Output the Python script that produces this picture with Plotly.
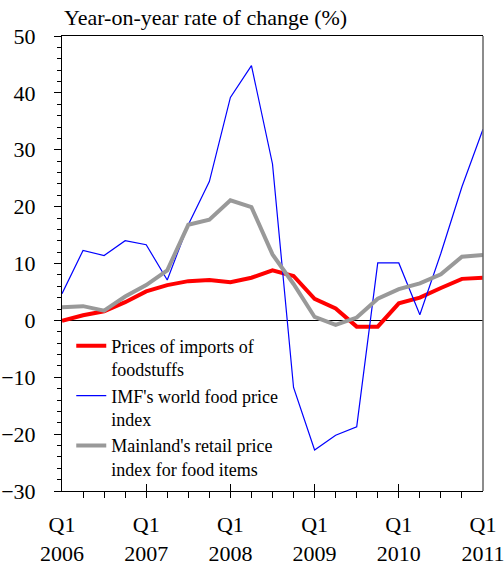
import plotly.graph_objects as go

# Quarterly periods, Q1 2006 .. Q1 2011
quarters = ["2006Q1", "2006Q2", "2006Q3", "2006Q4",
            "2007Q1", "2007Q2", "2007Q3", "2007Q4",
            "2008Q1", "2008Q2", "2008Q3", "2008Q4",
            "2009Q1", "2009Q2", "2009Q3", "2009Q4",
            "2010Q1", "2010Q2", "2010Q3", "2010Q4",
            "2011Q1"]

# Year-on-year rate of change (%)
import_prices = [-0.1, 0.9, 1.6, 3.2, 5.1, 6.2, 6.9, 7.1, 6.7, 7.5, 8.8,
                 7.8, 3.8, 2.1, -1.1, -1.1, 3.0, 4.0, 5.7, 7.3, 7.5]
imf_food_index = [4.7, 12.3, 11.4, 14.0, 13.3, 7.1, 16.8, 24.4, 39.2, 44.8, 27.5,
                  -11.8, -22.8, -20.2, -18.7, 10.1, 10.1, 1.0, 11.8, 23.5, 33.6]
mainland_food_cpi = [2.3, 2.5, 1.7, 4.2, 6.2, 8.8, 16.8, 17.7, 21.1, 19.9, 11.6,
                     6.4, 0.6, -0.8, 0.5, 3.8, 5.5, 6.5, 8.1, 11.2, 11.5]

series_names = ["Prices of imports of<br>foodstuffs",
                "IMF's world food price<br>index",
                "Mainland's retail price<br>index for food items"]

x = list(range(len(quarters)))
tick_pos = [i for i, q in enumerate(quarters) if q.endswith("Q1")]
tick_text = ["Q1<br>" + quarters[i][:4] for i in tick_pos]

FONT = "Liberation Serif, Times New Roman, serif"

fig = go.Figure()
fig.add_trace(go.Scatter(x=x, y=import_prices, mode="lines", name=series_names[0],
                         line=dict(color="#FF0000", width=4)))
fig.add_trace(go.Scatter(x=x, y=imf_food_index, mode="lines", name=series_names[1],
                         line=dict(color="#0000FF", width=1.2)))
fig.add_trace(go.Scatter(x=x, y=mainland_food_cpi, mode="lines", name=series_names[2],
                         line=dict(color="#999999", width=4)))

fig.update_layout(
    width=504, height=568,
    margin=dict(l=62, r=21, t=36, b=77, autoexpand=False),
    paper_bgcolor="white", plot_bgcolor="white",
    font=dict(family=FONT, color="black", size=22),
    showlegend=True,
    legend=dict(x=0.022, y=0.359, xanchor="left", yanchor="top",
                bgcolor="rgba(0,0,0,0)", valign="top",
                font=dict(family=FONT, size=18, color="black"),
                tracegroupgap=0, itemwidth=30),
    annotations=[dict(text="Year-on-year rate of change (%)", xref="paper", yref="paper",
                      x=0.0, y=1.0396, xanchor="left", yanchor="middle",
                      showarrow=False, font=dict(family=FONT, size=22, color="black"))],
    shapes=[dict(type="line", xref="paper", yref="paper", x0=1, x1=1, y0=0, y1=1,
                 line=dict(color="#666666", width=1.5))],
)

fig.update_xaxes(
    range=[0, 20], tickmode="array", tickvals=tick_pos, ticktext=tick_text,
    ticks="inside", ticklen=7, tickcolor="black", tickwidth=1,
    minor=dict(ticks="outside", dtick=1, tick0=0, ticklen=6, tickcolor="black"),
    showline=True, linecolor="black", linewidth=1, mirror=True,
    showgrid=False, zeroline=False, ticklabelstandoff=14,
    ticklabeloverflow="allow", automargin=False,
    tickfont=dict(family=FONT, size=22, color="black"),
)
fig.update_yaxes(
    range=[-30, 50], dtick=10, tick0=0,
    ticks="outside", ticklen=7, tickcolor="black", tickwidth=1,
    minor=dict(ticks="outside", dtick=2, ticklen=4, tickcolor="black"),
    showline=True, linecolor="black", linewidth=1,
    showgrid=False, zeroline=True, zerolinecolor="black", zerolinewidth=1,
    ticklabelstandoff=14, automargin=False,
    tickfont=dict(family=FONT, size=22, color="black"),
)

fig.write_html("out.html")
